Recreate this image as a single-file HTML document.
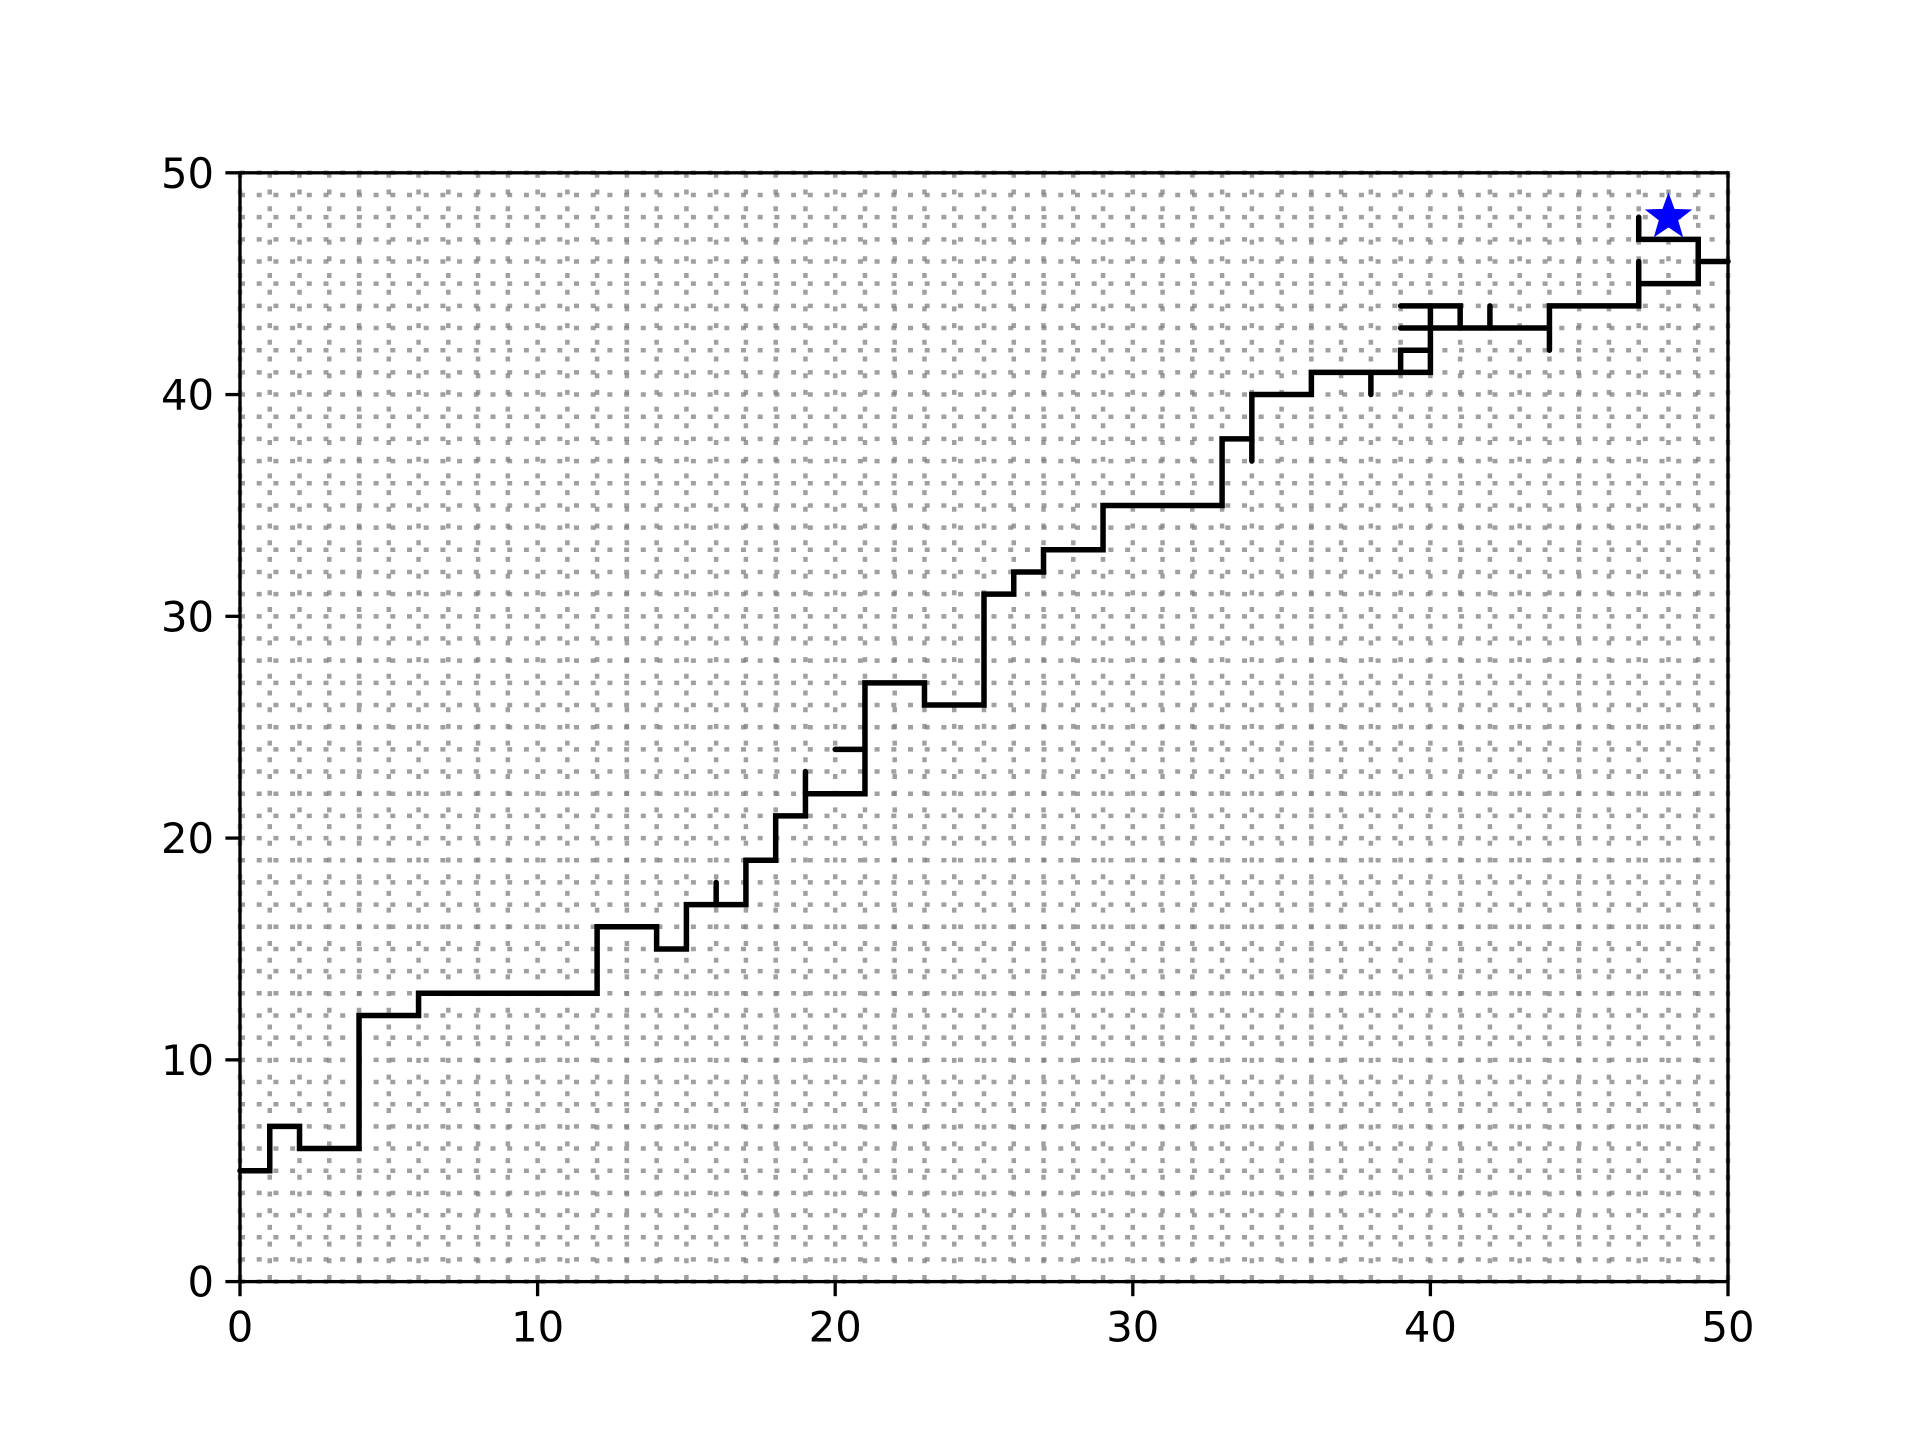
<!DOCTYPE html>
<html><head><meta charset="utf-8"><style>
html,body{margin:0;padding:0;background:#fff;}
svg{display:block;font-family:"DejaVu Sans","Liberation Sans",sans-serif;}
</style></head><body>
<svg id="chart" width="1920" height="1440" viewBox="0 0 1920 1440" xmlns="http://www.w3.org/2000/svg">
<rect width="1920" height="1440" fill="#fff"/>
<g id="grid"></g>
<g id="paths"></g>
<g id="marker"></g>
<rect x="240" y="172.8" width="1488" height="1108.8" fill="none" stroke="#000" stroke-width="3.3"/>
<g id="xticks"></g>
<g id="yticks"></g>
</svg>
<script>
const xTicks = [0,10,20,30,40,50];
const yTicks = [0,10,20,30,40,50];
const pathXs = [
 [0,1,1,2,2,4,4,6,6,12,12,14,14,15,15,17,17,18,18,19,19,21,21,23,23,25,25,26,26,27,27,29,29,33,33,34,34,36,36,39,40,40],
 [39,39,40],
 [39,44],
 [39,41,41],
 [42,42],
 [44,44,47,47,49,49,47,47],
 [47,47],
 [49,50],
 [34,34],
 [38,38],
 [16,16],
 [19,19],
 [20,21]
];
const pathYs = [
 [5,5,7,7,6,6,12,12,13,13,16,16,15,15,17,17,19,19,21,21,22,22,27,27,26,26,31,31,32,32,33,33,35,35,38,38,40,40,41,41,41,44],
 [41,42,42],
 [43,43],
 [44,44,43],
 [43,44],
 [42,44,44,45,45,47,47,48],
 [45,46],
 [46,46],
 [37,38],
 [40,41],
 [17,18],
 [22,23],
 [24,24]
];
const starX = [48];
const starY = [48];

const L=240,R=1728,T=172.8,B=1281.6;
const sx=v=>L+(v-0)/(50-0)*(R-L);
const sy=v=>B-(v-0)/(50-0)*(B-T);
const NS="http://www.w3.org/2000/svg";
function mk(tag,attrs,parent){const e=document.createElementNS(NS,tag);for(const k in attrs)e.setAttribute(k,attrs[k]);parent.appendChild(e);return e;}

const grid=document.getElementById('grid');
for(let i=0;i<=50;i++){
  const gv=mk('line',{x1:sx(i),x2:sx(i),y1:T,y2:B,stroke:'#808080','stroke-opacity':0.75,'stroke-width':4.5,'stroke-dasharray':'5 11.7'},grid);
  
  
  const gh=mk('line',{x1:L,x2:R,y1:sy(i),y2:sy(i),stroke:'#808080','stroke-opacity':0.75,'stroke-width':4.5,'stroke-dasharray':'5 11.7'},grid);
  
  
}

const pg=document.getElementById('paths');
pathXs.forEach((xs,k)=>{
  const pts=xs.map((x,j)=>sx(x)+','+sy(pathYs[k][j])).join(' ');
  const p=mk('polyline',{points:pts,fill:'none',stroke:'#000','stroke-width':5.5,'stroke-linejoin':'miter','stroke-linecap':'round'},pg);
  
  
});

const mg=document.getElementById('marker');
starX.forEach((x,i)=>{
  const cx=sx(x),cy=sy(starY[i]),r1=22,r2=9;
  let pts=[];
  for(let j=0;j<10;j++){const a=-Math.PI/2+j*Math.PI/5;const r=j%2?r2:r1;pts.push((cx+r*Math.cos(a))+','+(cy+r*Math.sin(a)));}
  const s=mk('polygon',{points:pts.join(' '),fill:'#0000ff',stroke:'#0000ff','stroke-width':2},mg);
  
  
});

const xg=document.getElementById('xticks');
xTicks.forEach(v=>{
  const t=mk('line',{x1:sx(v),x2:sx(v),y1:B,y2:B+14.6,stroke:'#000','stroke-width':3.3},xg);
  
  
  const l=mk('text',{x:sx(v),y:B+60,'text-anchor':'middle','font-size':41.7,fill:'#000'},xg);
  l.textContent=v;
  
  
});
const yg=document.getElementById('yticks');
yTicks.forEach(v=>{
  const t=mk('line',{x1:L-14.6,x2:L,y1:sy(v),y2:sy(v),stroke:'#000','stroke-width':3.3},yg);
  
  
  const l=mk('text',{x:L-26,y:sy(v)+15,'text-anchor':'end','font-size':41.7,fill:'#000'},yg);
  l.textContent=v;
  
  
});
</script>
</body></html>
